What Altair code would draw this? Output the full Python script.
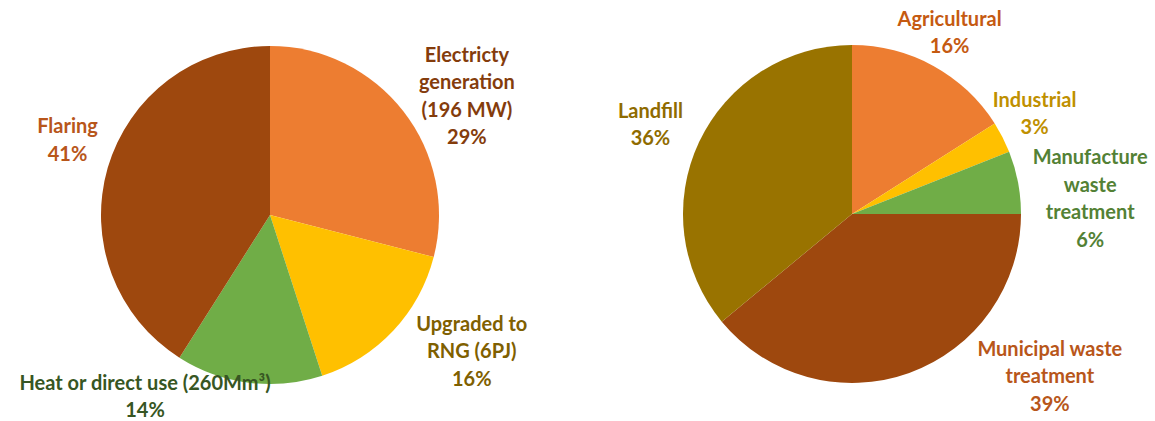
import math
import altair as alt
import pandas as pd

# ---- data ----
left_cats = ["Electricty generation (196 MW)", "Upgraded to RNG (6PJ)",
             "Heat or direct use (260Mm³)", "Flaring"]
left_vals = [29, 16, 14, 41]
left_labels = [["Electricty", "generation", "(196 MW)", "29%"],
               ["Upgraded to", "RNG (6PJ)", "16%"],
               ["Heat or direct use (260Mm³)", "14%"],
               ["Flaring", "41%"]]

right_cats = ["Agricultural", "Industrial", "Manufacture waste treatment",
              "Municipal waste treatment", "Landfill"]
right_vals = [16, 3, 6, 39, 36]
right_labels = [["Agricultural", "16%"],
                ["Industrial", "3%"],
                ["Manufacture", "waste", "treatment", "6%"],
                ["Municipal waste", "treatment", "39%"],
                ["Landfill", "36%"]]

# ---- styles ----
left_fill = ["#ED7D31", "#FFC000", "#70AD47", "#9E480E"]
left_text = ["#843C0C", "#7F6000", "#375623", "#B8561A"]
left_nudge = [(27, 14), (45, -10), (-98, -31), (4, -14)]

right_fill = ["#ED7D31", "#FFC000", "#70AD47", "#9E480E", "#997300"]
right_text = ["#C55A11", "#BF9000", "#538135", "#B8561A", "#8F6B00"]
right_nudge = [(-6, 8), (-9, -2), (27, 26), (125, -39), (-7, 3)]

W, H = 1155, 421
R = 169
LABEL_R = 215
FONT = "Lato"
FS = 20
LH = 27.5


def pie(cats, vals, labels, fills, tcolors, nudges, cx, cy):
    df = pd.DataFrame({"cat": cats, "value": vals,
                       "order": list(range(len(cats))),
                       "label": labels})
    base = alt.Chart(df)
    arc = base.mark_arc(outerRadius=R, stroke=None).encode(
        theta=alt.Theta("value:Q", stack=True),
        color=alt.Color("cat:N", scale=alt.Scale(domain=cats, range=fills),
                        legend=None),
        order=alt.Order("order:Q"),
        x=alt.value(cx), y=alt.value(cy),
    )
    layers = [arc]
    total = sum(vals)
    for c, lab, col, (dx, dy) in zip(cats, labels, tcolors, nudges):
        shift = -(len(lab) - 1) * LH / 2
        t = (base.transform_window(cum="sum(value)",
                                   sort=[alt.SortField("order")],
                                   frame=[None, 0])
             .transform_calculate(mid="datum.cum - datum.value / 2")
             .transform_filter(alt.datum.cat == c)
             .mark_text(radius=LABEL_R, dx=dx, dy=dy + shift, font=FONT,
                        fontWeight="bold", fontSize=FS, lineHeight=LH,
                        align="center", baseline="middle", color=col)
             .encode(theta=alt.Theta("mid:Q",
                                     scale=alt.Scale(domain=[0, total],
                                                     range=[0, 2 * math.pi])),
                     text="label",
                     x=alt.value(cx), y=alt.value(cy)))
        layers.append(t)
    return layers


layers = (pie(left_cats, left_vals, left_labels, left_fill, left_text,
              left_nudge, 270, 215)
          + pie(right_cats, right_vals, right_labels, right_fill, right_text,
                right_nudge, 852, 214))

chart = alt.layer(*layers).resolve_scale(
    theta="independent", color="independent"
).properties(
    width=W, height=H, autosize=alt.AutoSizeParams(type="none"), padding=0,
    background="white"
).configure_view(stroke=None)

chart.save("out.html", embed_options={"renderer": "svg", "actions": False})
